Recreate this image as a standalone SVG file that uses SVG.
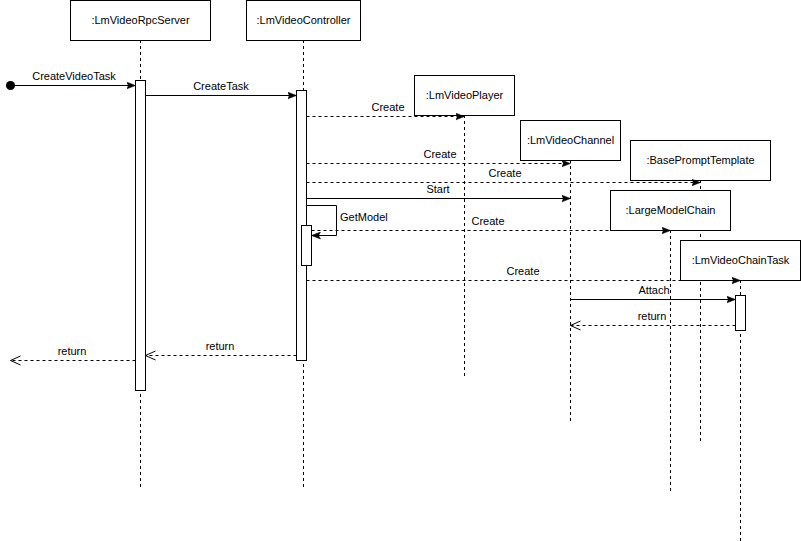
<svg xmlns="http://www.w3.org/2000/svg" width="801" height="541" viewBox="0 0 801 541">
<style>
text{font-family:"Liberation Sans",Arial,sans-serif;font-size:11px;fill:#000}
.box{fill:#fff;stroke:#000;stroke-width:1}
.life{stroke:#000;stroke-width:1;stroke-dasharray:3 3;fill:none}
.act{fill:#fff;stroke:#000;stroke-width:1}
.msg{stroke:#000;stroke-width:1;fill:none;marker-end:url(#fill)}
.dmsg{stroke:#000;stroke-width:1;fill:none;stroke-dasharray:3 3;marker-end:url(#fill)}
.ret{stroke:#000;stroke-width:1;fill:none;stroke-dasharray:3 3;marker-end:url(#open)}
.c{text-anchor:middle}
</style>
<defs>
<marker id="fill" markerWidth="10" markerHeight="8" refX="9" refY="4" orient="auto" markerUnits="userSpaceOnUse">
<path d="M0,0.5 L9,4 L0,7.5 L2,4 Z" fill="#000" stroke="#000" stroke-width="0.5"/>
</marker>
<marker id="open" markerWidth="12" markerHeight="12" refX="11" refY="6" orient="auto" markerUnits="userSpaceOnUse">
<path d="M1,1.5 L11,6 L1,10.5" fill="none" stroke="#000" stroke-width="1"/>
</marker>
</defs>

<g id="lifelines">
<line class="life" x1="140.5" y1="40" x2="140.5" y2="488"/>
<line class="life" x1="303.5" y1="40" x2="303.5" y2="488"/>
<line class="life" x1="464.5" y1="115" x2="464.5" y2="376"/>
<line class="life" x1="570.5" y1="160" x2="570.5" y2="421"/>
<line class="life" x1="700.5" y1="180" x2="700.5" y2="441"/>
<line class="life" x1="670.5" y1="230" x2="670.5" y2="491"/>
<line class="life" x1="740.5" y1="280" x2="740.5" y2="541"/>
</g>

<g id="node-rpcserver">
<rect class="box" x="70.5" y="0.5" width="140" height="40"/>
<text class="c" x="140.5" y="24">:LmVideoRpcServer</text>
<rect class="act" x="135.5" y="80.5" width="10" height="310"/>
</g>
<g id="node-controller">
<rect class="box" x="246.5" y="0.5" width="114" height="40"/>
<text class="c" x="303.5" y="24">:LmVideoController</text>
<rect class="act" x="296.5" y="90.5" width="10" height="270"/>
<rect class="act" x="301.5" y="225.5" width="10" height="40"/>
</g>
<g id="node-player">
<rect class="box" x="414.5" y="75.5" width="100" height="40"/>
<text class="c" x="464.5" y="99">:LmVideoPlayer</text>
</g>
<g id="node-channel">
<rect class="box" x="520.5" y="120.5" width="100" height="40"/>
<text class="c" x="570.5" y="144">:LmVideoChannel</text>
</g>
<g id="node-template">
<rect class="box" x="630.5" y="140.5" width="140" height="40"/>
<text class="c" x="700.5" y="164">:BasePromptTemplate</text>
</g>
<g id="node-chain">
<rect class="box" x="610.5" y="190.5" width="120" height="40"/>
<text class="c" x="670.5" y="214">:LargeModelChain</text>
</g>
<g id="node-chaintask">
<rect class="box" x="680.5" y="240.5" width="120" height="40"/>
<text class="c" x="740.5" y="264">:LmVideoChainTask</text>
<rect class="act" x="735.5" y="295.5" width="10" height="35"/>
</g>

<g id="connectors">
<circle cx="10.5" cy="85.5" r="4.5" fill="#000"/>
<line class="msg" x1="10.5" y1="85.5" x2="135.5" y2="85.5"/>
<text class="c" x="74" y="80">CreateVideoTask</text>

<line class="msg" x1="145.5" y1="95.5" x2="296.5" y2="95.5"/>
<text class="c" x="221" y="90">CreateTask</text>

<line class="dmsg" x1="306.5" y1="116.5" x2="464.5" y2="116.5"/>
<text class="c" x="388" y="111">Create</text>

<line class="dmsg" x1="306.5" y1="163.5" x2="570.5" y2="163.5"/>
<text class="c" x="440" y="158">Create</text>

<line class="dmsg" x1="306.5" y1="182.5" x2="700.5" y2="182.5"/>
<text class="c" x="505" y="177">Create</text>

<line class="msg" x1="306.5" y1="198.5" x2="570.5" y2="198.5"/>
<text class="c" x="438" y="193">Start</text>

<path class="msg" d="M306.5,205.5 H336.5 V235.5 H311.5"/>
<text x="340" y="221">GetModel</text>

<line class="dmsg" x1="311.5" y1="230.5" x2="670.5" y2="230.5"/>
<text class="c" x="488" y="225">Create</text>

<line class="dmsg" x1="306.5" y1="280.5" x2="740.5" y2="280.5"/>
<text class="c" x="523" y="275">Create</text>

<line class="msg" x1="570.5" y1="299.5" x2="735.5" y2="299.5"/>
<text class="c" x="654" y="294">Attach</text>

<line class="ret" x1="735.5" y1="325.5" x2="570.5" y2="325.5"/>
<text class="c" x="652" y="320">return</text>

<line class="ret" x1="296.5" y1="355.5" x2="145.5" y2="355.5"/>
<text class="c" x="220" y="350">return</text>

<line class="ret" x1="135.5" y1="360.5" x2="10.5" y2="360.5"/>
<text class="c" x="72" y="355">return</text>
</g>
</svg>
